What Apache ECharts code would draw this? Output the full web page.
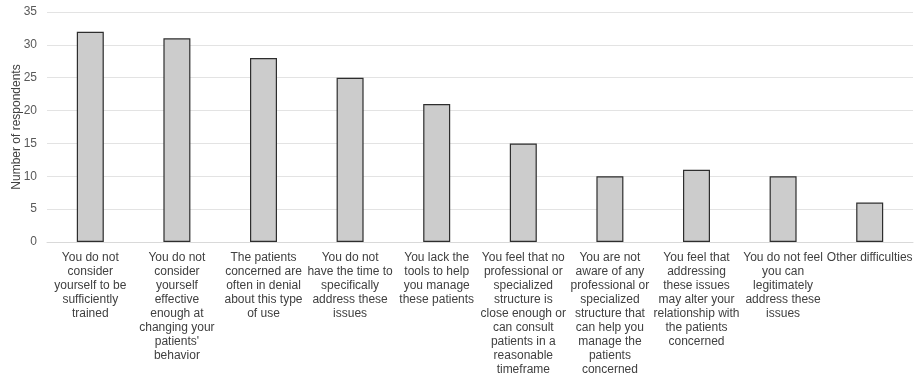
<!DOCTYPE html>
<html>
<head>
<meta charset="utf-8">
<script src="https://cdn.jsdelivr.net/npm/echarts@6/dist/echarts.min.js"></script>
<style>
  html, body { margin: 0; padding: 0; background: #ffffff; }
  #chart { width: 919px; height: 373px; }
</style>
</head>
<body>
<div id="chart"></div>
<script>
// Reasons given for difficulty, wrapped as printed under each bar
const categories = [
  "You do not\nconsider\nyourself to be\nsufficiently\ntrained",
  "You do not\nconsider\nyourself\neffective\nenough at\nchanging your\npatients'\nbehavior",
  "The patients\nconcerned are\noften in denial\nabout this type\nof use",
  "You do not\nhave the time to\nspecifically\naddress these\nissues",
  "You lack the\ntools to help\nyou manage\nthese patients",
  "You feel that no\nprofessional or\nspecialized\nstructure is\nclose enough or\ncan consult\npatients in a\nreasonable\ntimeframe",
  "You are not\naware of any\nprofessional or\nspecialized\nstructure that\ncan help you\nmanage the\npatients\nconcerned",
  "You feel that\naddressing\nthese issues\nmay alter your\nrelationship with\nthe patients\nconcerned",
  "You do not feel\nyou can\nlegitimately\naddress these\nissues",
  "Other difficulties"
];
const respondents = [32, 31, 28, 25, 21, 15, 10, 11, 10, 6];
const yTicks = { min: 0, max: 35, interval: 5 };

const chart = echarts.init(document.getElementById('chart'), null, { renderer: 'canvas' });
const font = 'Liberation Sans, Arial, sans-serif';

chart.setOption({
  animation: false,
  backgroundColor: '#ffffff',
  grid: { left: 47, right: 6, top: 12, bottom: 131, containLabel: false, outerBoundsMode: 'none' },
  xAxis: {
    type: 'category',
    data: categories,
    axisLine: { show: true, lineStyle: { color: '#d9d9d9', width: 1 } },
    axisTick: { show: false },
    axisLabel: {
      interval: 0,
      color: '#404040',
      fontFamily: font,
      fontSize: 12,
      lineHeight: 14,
      margin: 9,
      align: 'center',
      verticalAlign: 'top'
    }
  },
  yAxis: {
    type: 'value',
    min: yTicks.min,
    max: yTicks.max,
    interval: yTicks.interval,
    name: 'Number of respondents',
    nameLocation: 'middle',
    nameGap: 24,
    nameMoveOverlap: false,
    nameTextStyle: { color: '#404040', fontFamily: font, fontSize: 12 },
    axisLine: { show: false },
    axisTick: { show: false },
    axisLabel: { color: '#595959', fontFamily: font, fontSize: 12, margin: 10 },
    splitLine: { lineStyle: { color: '#e3e3e3', width: 1 } }
  },
  series: [{
    type: 'bar',
    data: respondents,
    barWidth: 27,
    itemStyle: { color: '#cccccc', borderColor: '#2e2e2e', borderWidth: 1.2 }
  }]
});
</script>
</body>
</html>
